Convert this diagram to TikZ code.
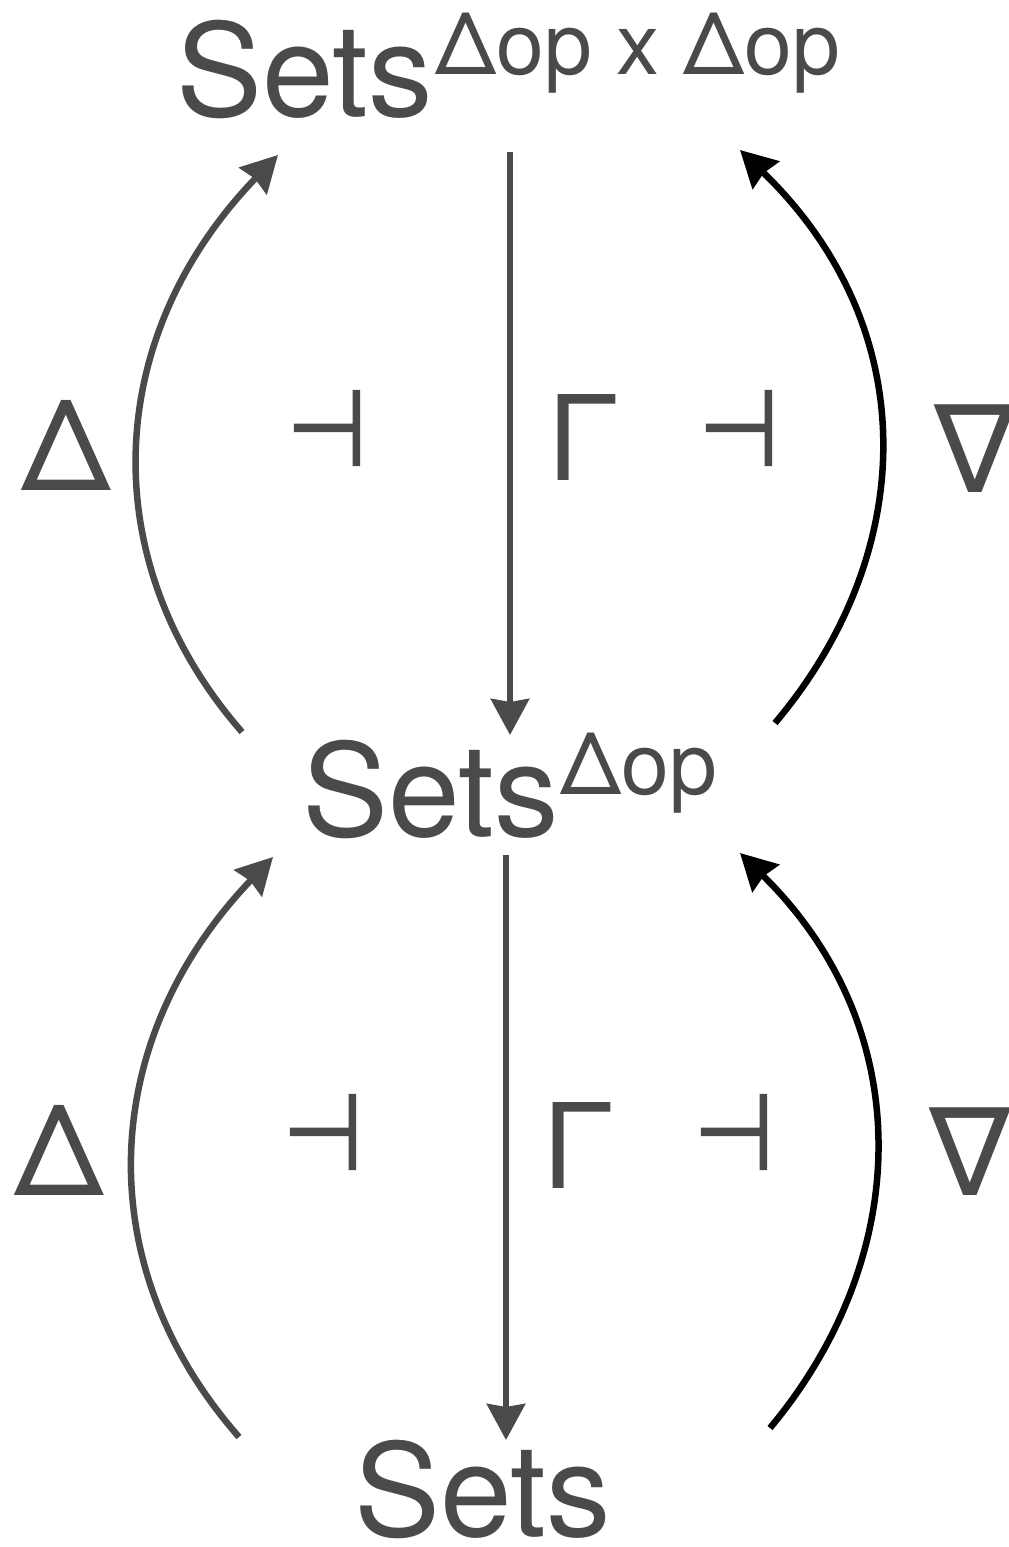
\documentclass[tikz,border=0pt]{standalone}
\usepackage{fontspec}
\setmainfont{TeX Gyre Heros}
\newfontfamily\symfont{DejaVu Sans}
\newfontfamily\adjfont[FakeBold=2]{DejaVu Sans}
\usetikzlibrary{arrows.meta}
\definecolor{ink}{RGB}{74,74,72}
\tikzset{
  lbl/.style={inner sep=0pt, outer sep=0pt, anchor=base west, text=ink},
  big/.style={font=\fontsize{129}{129}\selectfont},
  arr/.style={line width=6.5pt, -{Stealth[length=36pt,width=38pt,inset=3pt]}},
  gray arr/.style={arr, draw=ink},
  black arr/.style={arr, draw=black},
  adj/.style={inner sep=0pt, text=ink}
}
\newcommand{\supsz}[1]{\raisebox{42pt}{\fontsize{86}{86}\selectfont #1}}
\newcommand{\adjsym}{\resizebox{80pt}{74pt}{\adjfont ⊣}}
\begin{document}
\begin{tikzpicture}[x=1pt,y=-1pt]
\useasboundingbox (0,0) rectangle (1009,1547);
% objects
\node[lbl,big] (top) at (176,116) {Sets\supsz{\kern3pt Δop x Δop}};
\node[lbl,big] (mid) at (302,836) {Sets\supsz{\kern2pt Δop}};
\node[lbl,big] (bot) at (354,1536) {Sets};
% functor labels
\node[lbl,big,font=\fontsize{126}{126}\selectfont] (D1) at (21,490) {Δ};
\node[lbl,font=\fontsize{118}{118}\selectfont] (G1) at (547,480) {Γ};
\node[lbl,font=\fontsize{122}{122}\symfont] (N1) at (934,492) {∇};
\node[lbl,font=\fontsize{126}{126}\selectfont] (D2) at (14,1195) {Δ};
\node[lbl,font=\fontsize{118}{118}\selectfont] (G2) at (542,1188) {Γ};
\node[lbl,font=\fontsize{122}{122}\symfont] (N2) at (929,1195) {∇};
% adjunction symbols
\node[adj] (a1) at (327,428) {\adjsym};
\node[adj] (a2) at (739,428) {\adjsym};
\node[adj] (a3) at (323,1132) {\adjsym};
\node[adj] (a4) at (734,1132) {\adjsym};
% connector endpoints
\coordinate (g1s) at (510,152);  \coordinate (g1e) at (510,735);
\coordinate (g2s) at (506,855);  \coordinate (g2e) at (506,1440);
\coordinate (d1s) at (242,732);  \coordinate (d1e) at (278,155);
\coordinate (n1s) at (775,723);  \coordinate (n1e) at (740,150);
\coordinate (d2s) at (239,1437); \coordinate (d2e) at (273,857);
\coordinate (n2s) at (770,1428); \coordinate (n2e) at (740,853);
% connectors
\draw[gray arr] (g1s) -- (g1e);
\draw[gray arr] (g2s) -- (g2e);
\draw[gray arr] (d1s) .. controls (92,560) and (104,335) .. (d1e);
\draw[black arr] (n1s) .. controls (917,555) and (926,330) .. (n1e);
\draw[gray arr] (d2s) .. controls (88,1265) and (98,1040) .. (d2e);
\draw[black arr] (n2s) .. controls (912,1258) and (920,1030) .. (n2e);
\end{tikzpicture}
\end{document}
